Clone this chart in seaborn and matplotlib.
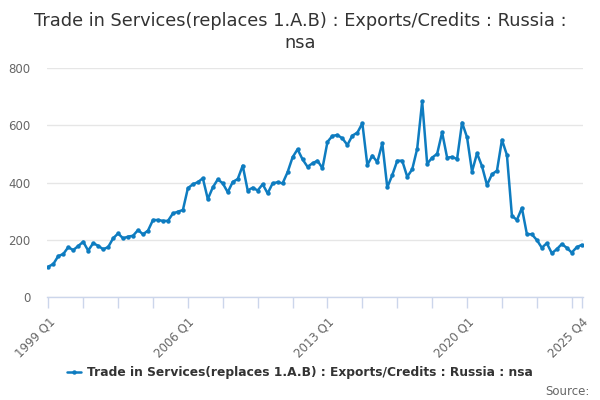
import numpy as np
import pandas as pd
import seaborn as sns
import matplotlib
matplotlib.use('Agg')
import matplotlib.pyplot as plt

# quarterly values, 1999 Q1 .. 2025 Q4
years = list(range(1999, 2026))
quarters = [f'{y} Q{q}' for y in years for q in range(1, 5)]
values = [
    106, 115, 143, 150, 174, 164, 178, 193, 162, 188, 179, 167,
    174, 205, 222, 205, 211, 214, 234, 219, 232, 269, 269, 266,
    266, 292, 298, 304, 380, 394, 401, 415, 342, 383, 411, 397,
    366, 402, 412, 459, 372, 382, 372, 394, 362, 397, 401, 397,
    436, 488, 516, 481, 455, 467, 476, 450, 542, 563, 566, 554,
    531, 564, 574, 607, 461, 494, 471, 537, 383, 426, 476, 476,
    420, 446, 518, 683, 465, 487, 500, 575, 487, 489, 482, 609,
    558, 438, 502, 457, 391, 429, 441, 549, 496, 284, 269, 311,
    220, 219, 199, 172, 188, 153, 167, 185, 172, 155, 174, 182,
]
series_name = 'Trade in Services(replaces 1.A.B) : Exports/Credits : Russia : nsa'
title = 'Trade in Services(replaces 1.A.B) : Exports/Credits : Russia :\nnsa'
label_quarters = ['1999 Q1', '2006 Q1', '2013 Q1', '2020 Q1', '2025 Q4']

df = pd.DataFrame({'quarter': quarters, 'value': values})
df['pos'] = np.arange(len(df))

sns.set_style('white')
plt.rcParams['font.family'] = ['DejaVu Sans']

fig = plt.figure(figsize=(6, 4), dpi=100)
ax = fig.add_axes([0.078, 0.2575, 0.894, 0.5725])

line_color = '#0e7cc0'
sns.lineplot(data=df, x='pos', y='value', ax=ax, color=line_color, linewidth=1.8,
             marker='o', markersize=3.2, markeredgewidth=0, label=series_name, legend=False)

ax.set_xlim(df['pos'].iloc[0] - 0.3, df['pos'].iloc[-1] + 0.3)
ax.set_ylim(0, 800)
ax.set_yticks([0, 200, 400, 600, 800])
ax.yaxis.grid(True, color='#e6e6e6', linewidth=1)
ax.set_axisbelow(True)
for s in ['top', 'right', 'left']:
    ax.spines[s].set_visible(False)
ax.spines['bottom'].set_color('#ccd6eb')
ax.spines['bottom'].set_linewidth(1)

tick_pos = list(range(0, len(df), 7)) + [len(df) - 1]
tick_lab = [df['quarter'][p] if df['quarter'][p] in label_quarters else '' for p in tick_pos]
ax.set_xticks(tick_pos)
ax.set_xticklabels(tick_lab, rotation=45, ha='right', rotation_mode='anchor')
ax.tick_params(axis='x', length=8, color='#ccd6eb', width=1, labelsize=8.5,
               labelcolor='#666666', pad=5, bottom=True)
ax.tick_params(axis='y', length=0, labelsize=8.5, labelcolor='#666666', pad=12)
ax.set_xlabel('')
ax.set_ylabel('')

fig.suptitle(title, y=0.97, fontsize=12.8, color='#333333', linespacing=1.25)

handles, labels = ax.get_legend_handles_labels()
fig.legend(handles, labels, loc='center', bbox_to_anchor=(0.5, 0.068), frameon=False,
           prop={'size': 8.8, 'weight': 'bold'}, labelcolor='#333333',
           handlelength=1.1, handletextpad=0.5)
fig.text(0.982, 0.022, 'Source:', ha='right', va='center', fontsize=8.5, color='#666666')

fig.savefig('out.png', dpi=100)
